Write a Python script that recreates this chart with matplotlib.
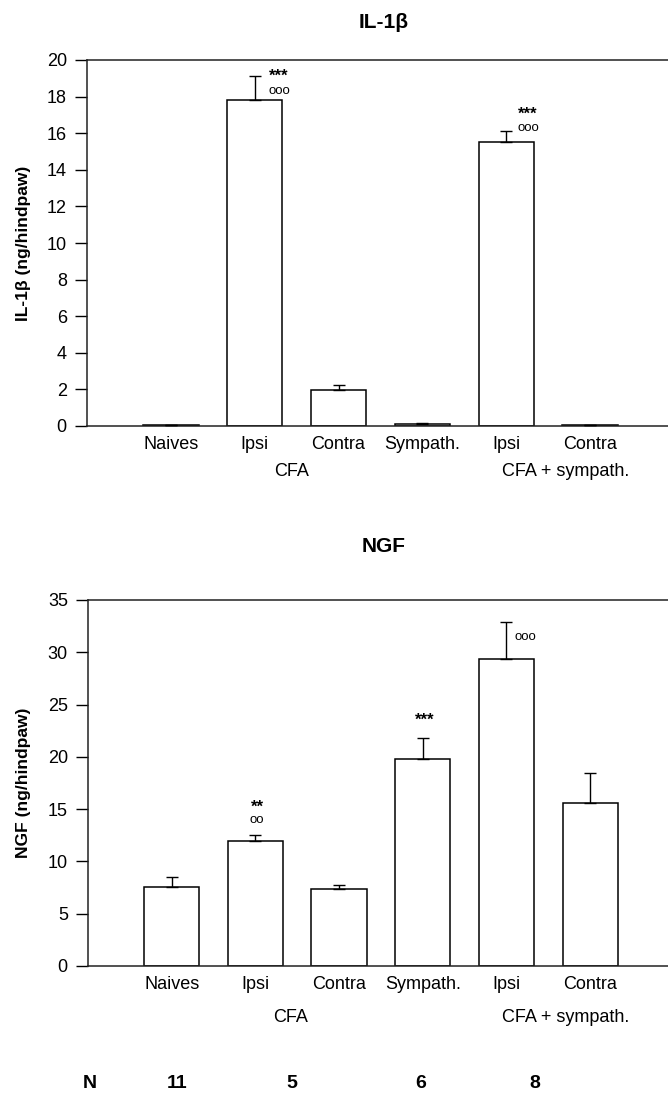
import matplotlib
matplotlib.use("Agg")
import matplotlib.pyplot as plt
import numpy as np

plt.rcParams['font.family'] = ['Liberation Sans', 'DejaVu Sans']

# ---- data ----
groups = ["Naives", "Ipsi", "Contra", "Sympath.", "Ipsi", "Contra"]
super_labels = ["CFA", "CFA + sympath."]

il1b_mean = [0.05, 17.8, 1.95, 0.13, 15.5, 0.05]
il1b_sem = [0.03, 1.3, 0.3, 0.06, 0.6, 0.03]

ngf_mean = [7.6, 12.0, 7.35, 19.8, 29.4, 15.55]
ngf_sem = [0.9, 0.55, 0.35, 2.0, 3.5, 2.95]

# significance marks: (x position, y value, text)
il1b_marks = [(1.29, 19.1, "***"), (1.29, 18.3, "ooo"),
              (4.26, 17.05, "***"), (4.26, 16.3, "ooo")]
ngf_marks = [(1.02, 15.2, "**"), (1.02, 13.95, "oo"),
             (3.02, 23.5, "***"), (4.23, 31.45, "ooo")]

n_labels = ["N", "11", "5", "6", "8"]

# ---- layout ----
W, H = 668, 1096
fig = plt.figure(figsize=(W / 100, H / 100), dpi=100)

def px_ax(left, top, right, bottom):
    return fig.add_axes([left / W, 1 - bottom / H, (right - left) / W, (bottom - top) / H])

ax1 = px_ax(87, 60, 668, 426)
ax2 = px_ax(88, 600, 668, 966)

x = np.arange(len(groups))


def draw(ax, means, sems, ylim, yticks, ylabel, marks, super_pos, super_off, lab_x):
    ax.bar(x, means, width=0.66, color="white", edgecolor="black", linewidth=1.1, zorder=2)
    ax.errorbar(x, means, yerr=[np.zeros(len(means)), sems], fmt="none",
                ecolor="black", elinewidth=1.0, capsize=4.3, capthick=1.0, zorder=3)
    ax.set_xlim(-1.0, 5.93)
    ax.set_ylim(*ylim)
    ax.set_yticks(yticks)
    ax.tick_params(axis="y", direction="out", length=8.5, width=1.0, labelsize=13, pad=6)
    ax.set_xticks(x)
    ax.set_xticklabels(groups, fontsize=13)
    ax.tick_params(axis="x", length=0, pad=7)
    for s in ["left", "bottom", "top"]:
        ax.spines[s].set_linewidth(1.1)
        ax.spines[s].set_color("#222222")
    ax.spines["right"].set_visible(False)
    ax.set_ylabel(ylabel, fontsize=12.5, fontweight="bold")
    ax.yaxis.set_label_coords(lab_x, 0.5)
    for mx, my, t in marks:
        if "*" in t:
            ax.text(mx, my, t, ha="center", va="center", fontsize=12, fontweight="bold")
        else:
            ax.text(mx, my, t, ha="center", va="center", fontsize=9.5)
    for pos, lab in zip(super_pos, super_labels):
        ax.annotate(lab, xy=(pos, 0), xycoords=("data", "axes fraction"),
                    xytext=(0, -super_off), textcoords="offset pixels",
                    ha="center", va="center", fontsize=13)


draw(ax1, il1b_mean, il1b_sem, (0, 20), np.arange(0, 21, 2), "IL-1β (ng/hindpaw)",
     il1b_marks, [1.44, 4.71], 46, -0.096)
draw(ax2, ngf_mean, ngf_sem, (0, 35), np.arange(0, 36, 5), "NGF (ng/hindpaw)",
     ngf_marks, [1.42, 4.71], 51, -0.098)

fig.text(384 / W, 1 - 22 / H, "IL-1β", ha="center", va="center", fontsize=15, fontweight="bold")
fig.text(384 / W, 1 - 547 / H, "NGF", ha="center", va="center", fontsize=15, fontweight="bold")

n_xpix = [90, 177, 292, 421, 535]
for xp, t in zip(n_xpix, n_labels):
    fig.text(xp / W, 1 - 1084 / H, t, ha="center", va="center", fontsize=14, fontweight="bold")

fig.savefig("out.png", dpi=100)
